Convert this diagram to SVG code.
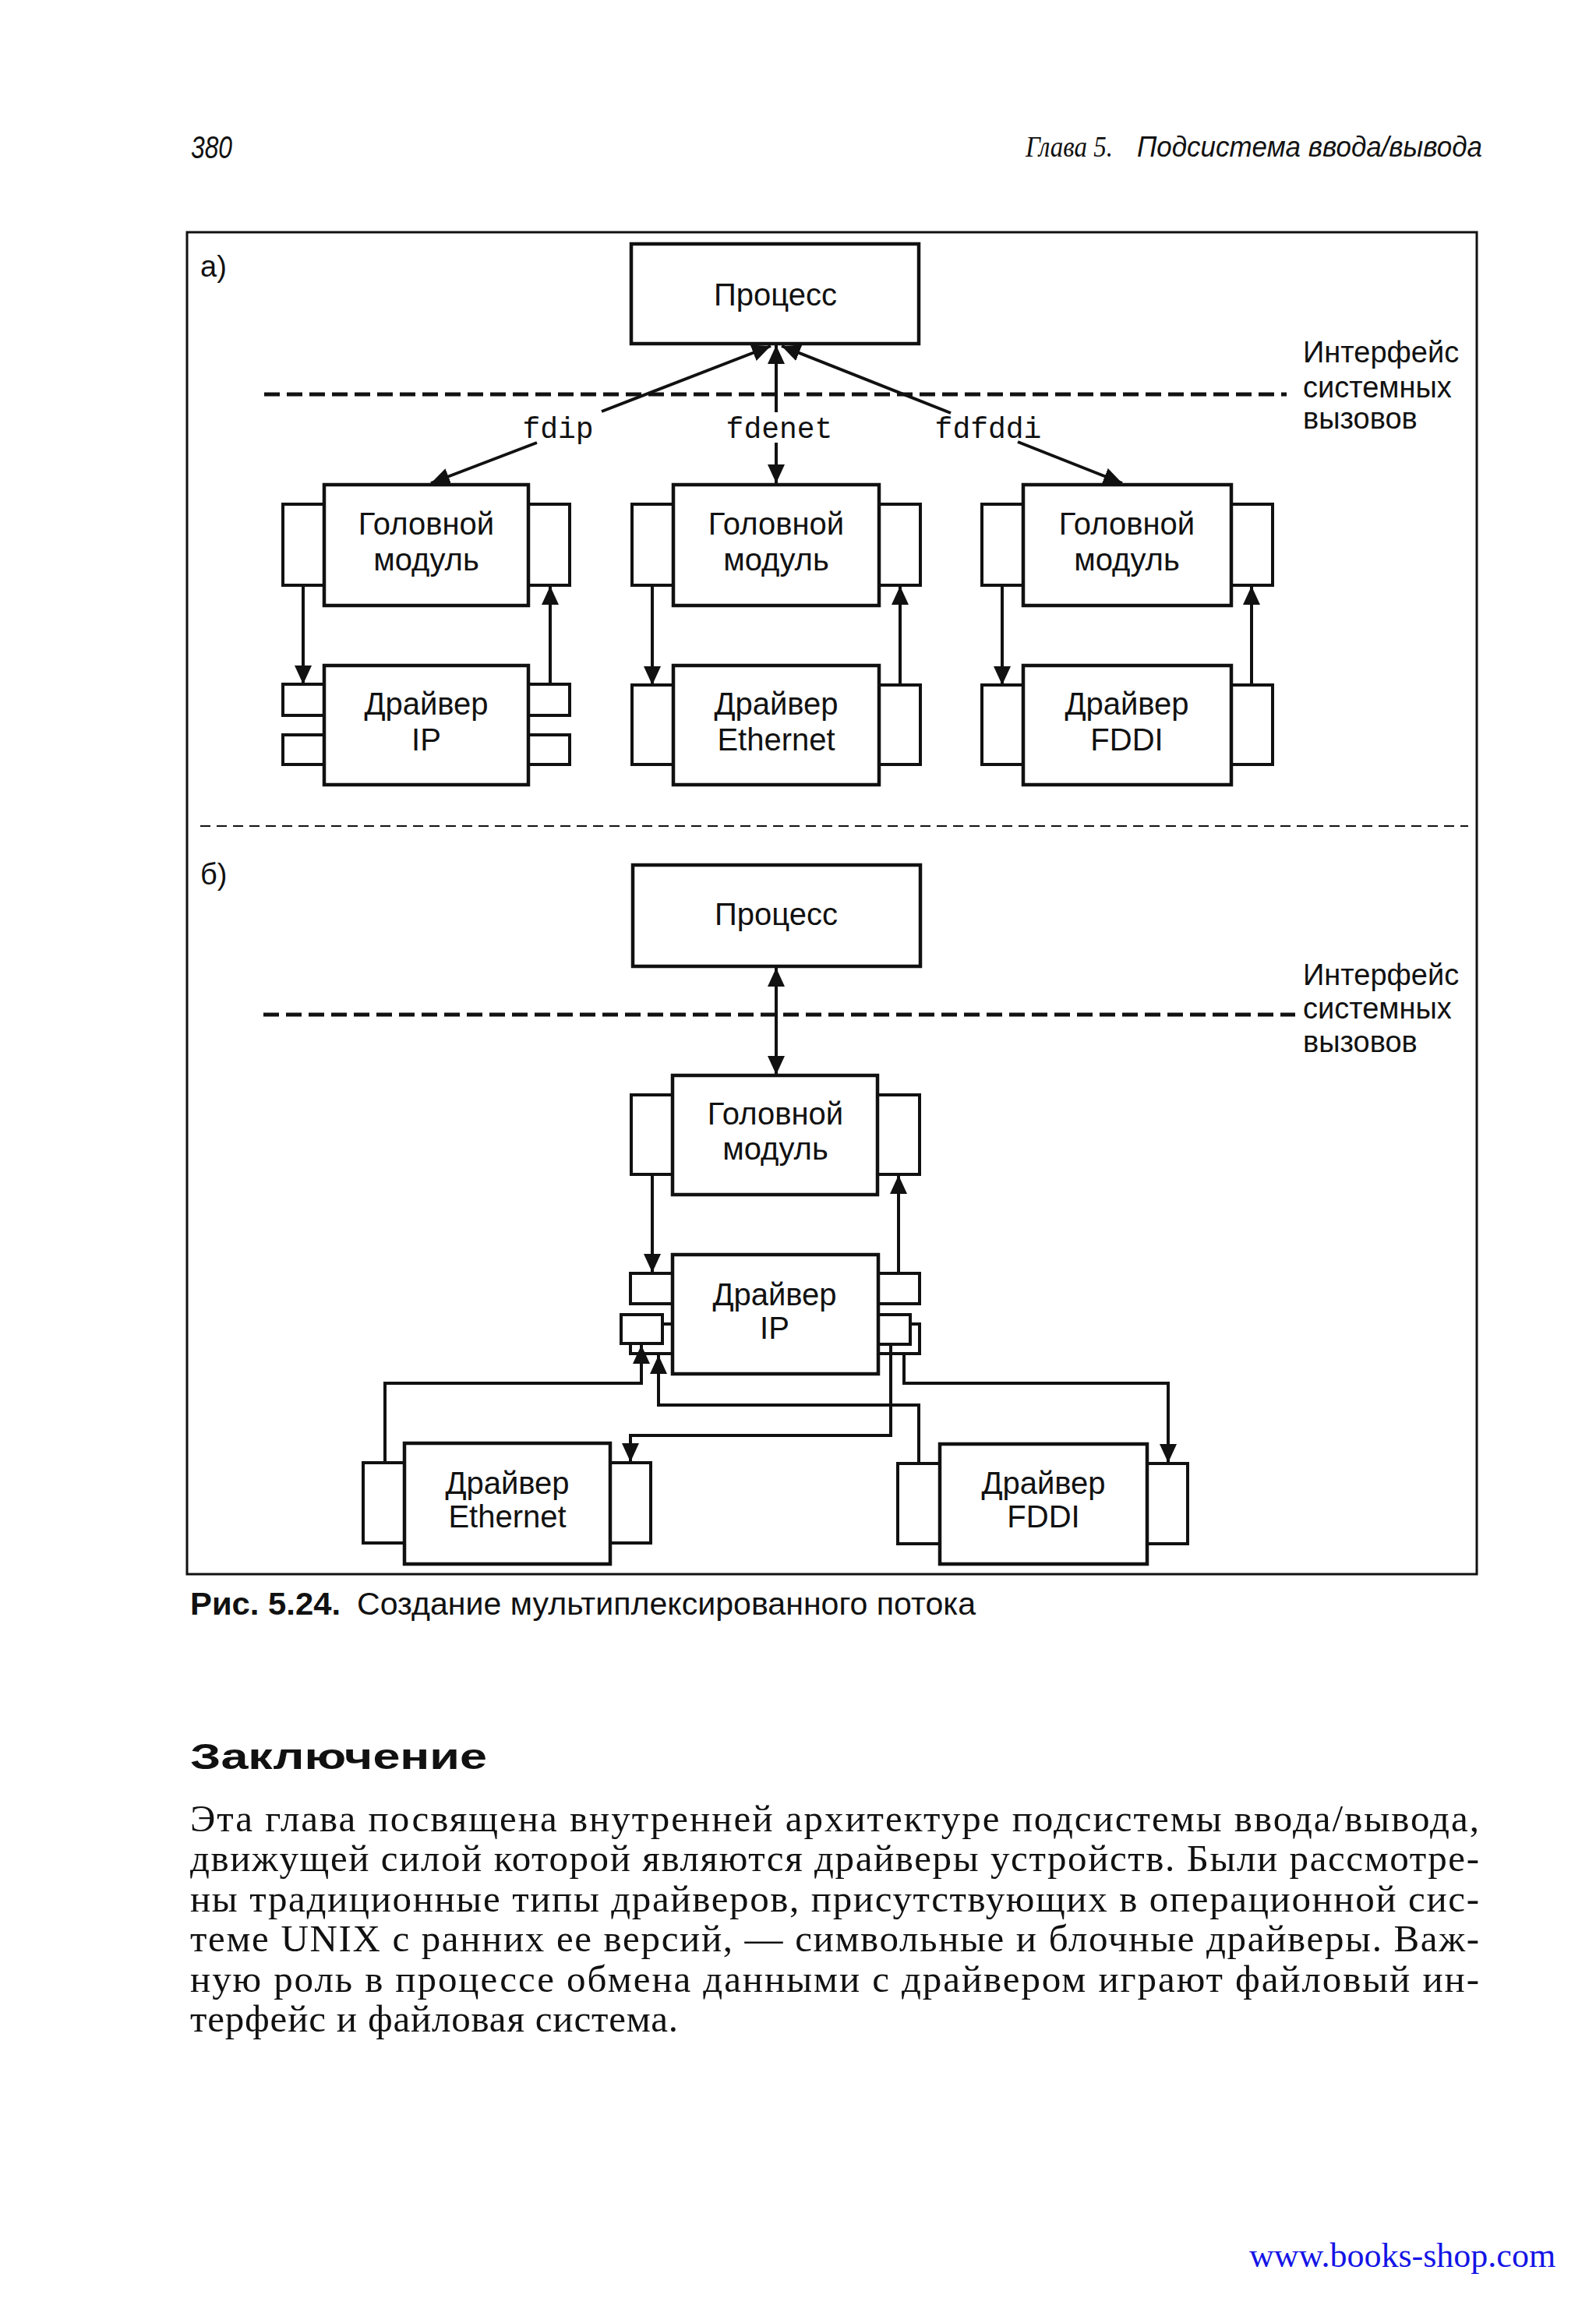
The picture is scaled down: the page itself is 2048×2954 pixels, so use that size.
<svg xmlns="http://www.w3.org/2000/svg" width="2048" height="2954" viewBox="0 0 2048 2954">
<style>
.bx{fill:#fff;stroke:#111;stroke-width:4.5}
.tb{fill:#fff;stroke:#111;stroke-width:4}
.ln{fill:none;stroke:#111;stroke-width:4}
.lbl{font-family:"Liberation Sans",Arial,sans-serif;font-size:40px;fill:#111;text-anchor:middle}
.ifc{font-family:"Liberation Sans",Arial,sans-serif;font-size:38px;fill:#111}
.mono{font-family:"Liberation Mono","Courier New",monospace;font-size:38px;fill:#111;text-anchor:middle}
.sys{fill:none;stroke:#111;stroke-width:5;stroke-dasharray:20 9}
.body{font-family:"Liberation Serif","Times New Roman",serif;font-size:49px;fill:#111}
</style>
<defs>
<marker id="ah" markerUnits="userSpaceOnUse" markerWidth="26" markerHeight="24" refX="24" refY="11" orient="auto-start-reverse">
<path d="M0,0 L24,11 L0,22 z" fill="#111"/>
</marker>
</defs>
<rect width="2048" height="2954" fill="#fff"/>

<g id="header">
<text x="245" y="203" font-family="Liberation Sans,Arial,sans-serif" font-style="italic" font-size="40" fill="#111" textLength="53" lengthAdjust="spacingAndGlyphs">380</text>
<text x="1316" y="201" font-family="Liberation Serif,Times New Roman,serif" font-style="italic" font-size="38" fill="#111" textLength="112" lengthAdjust="spacingAndGlyphs">Глава 5.</text>
<text x="1459" y="201" font-family="Liberation Sans,Arial,sans-serif" font-style="italic" font-size="36" fill="#111" textLength="443" lengthAdjust="spacingAndGlyphs">Подсистема ввода/вывода</text>
</g>

<g id="frame">
<rect x="240" y="298" width="1655" height="1722" fill="none" stroke="#111" stroke-width="3"/>
<line x1="257" y1="1060" x2="1884" y2="1060" stroke="#111" stroke-width="2" stroke-dasharray="13 8"/>
<text x="257" y="355" class="ifc" font-size="40">а)</text>
<text x="257" y="1135" class="ifc" font-size="40">б)</text>
</g>

<g id="syscall-a">
<line x1="339" y1="506" x2="1651" y2="506" class="sys"/>
<text x="1672" y="465" class="ifc">Интерфейс</text>
<text x="1672" y="510" class="ifc">системных</text>
<text x="1672" y="550" class="ifc">вызовов</text>
</g>

<g id="process-a">
<rect x="810" y="313" width="369" height="128" class="bx"/>
<text x="995" y="392" class="lbl">Процесс</text>
</g>

<g id="fd-labels">
<text x="716" y="562" class="mono">fdip</text>
<text x="1000" y="562" class="mono">fdenet</text>
<text x="1268" y="562" class="mono">fdfddi</text>
</g>

<g id="head-ip-a">
<rect x="363" y="647" width="53" height="104" class="tb"/>
<rect x="678" y="647" width="53" height="104" class="tb"/>
<rect x="416" y="622" width="262" height="155" class="bx"/>
<text x="547" y="686" class="lbl">Головной</text>
<text x="547" y="732" class="lbl">модуль</text>
</g>
<g id="drv-ip-a">
<rect x="363" y="878" width="53" height="40" class="tb"/>
<rect x="363" y="943" width="53" height="38" class="tb"/>
<rect x="678" y="878" width="53" height="40" class="tb"/>
<rect x="678" y="943" width="53" height="38" class="tb"/>
<rect x="416" y="854" width="262" height="153" class="bx"/>
<text x="547" y="917" class="lbl">Драйвер</text>
<text x="547" y="963" class="lbl">IP</text>
</g>

<g id="head-eth-a">
<rect x="811" y="647" width="53" height="104" class="tb"/>
<rect x="1128" y="647" width="53" height="104" class="tb"/>
<rect x="864" y="622" width="264" height="155" class="bx"/>
<text x="996" y="686" class="lbl">Головной</text>
<text x="996" y="732" class="lbl">модуль</text>
</g>
<g id="drv-eth-a">
<rect x="811" y="879" width="53" height="102" class="tb"/>
<rect x="1128" y="879" width="53" height="102" class="tb"/>
<rect x="864" y="854" width="264" height="153" class="bx"/>
<text x="996" y="917" class="lbl">Драйвер</text>
<text x="996" y="963" class="lbl">Ethernet</text>
</g>

<g id="head-fddi-a">
<rect x="1260" y="647" width="53" height="104" class="tb"/>
<rect x="1580" y="647" width="53" height="104" class="tb"/>
<rect x="1313" y="622" width="267" height="155" class="bx"/>
<text x="1446" y="686" class="lbl">Головной</text>
<text x="1446" y="732" class="lbl">модуль</text>
</g>
<g id="drv-fddi-a">
<rect x="1260" y="879" width="53" height="102" class="tb"/>
<rect x="1580" y="879" width="53" height="102" class="tb"/>
<rect x="1313" y="854" width="267" height="153" class="bx"/>
<text x="1446" y="917" class="lbl">Драйвер</text>
<text x="1446" y="963" class="lbl">FDDI</text>
</g>

<g id="syscall-b">
<line x1="338" y1="1302" x2="1662" y2="1302" class="sys"/>
<text x="1672" y="1264" class="ifc">Интерфейс</text>
<text x="1672" y="1307" class="ifc">системных</text>
<text x="1672" y="1350" class="ifc">вызовов</text>
</g>

<g id="process-b">
<rect x="812" y="1110" width="369" height="130" class="bx"/>
<text x="996" y="1187" class="lbl">Процесс</text>
</g>

<g id="head-b">
<rect x="810" y="1405" width="53" height="102" class="tb"/>
<rect x="1126" y="1405" width="54" height="102" class="tb"/>
<rect x="863" y="1380" width="263" height="153" class="bx"/>
<text x="995" y="1443" class="lbl">Головной</text>
<text x="995" y="1488" class="lbl">модуль</text>
</g>

<g id="drv-ip-b">
<rect x="809" y="1634" width="54" height="39" class="tb"/>
<rect x="1127" y="1634" width="53" height="39" class="tb"/>
<rect x="809" y="1699" width="54" height="38" class="tb"/>
<rect x="1127" y="1699" width="53" height="38" class="tb"/>
<rect x="797" y="1687" width="53" height="37" class="tb"/>
<rect x="1113" y="1687" width="55" height="38" class="tb"/>
<rect x="863" y="1610" width="264" height="153" class="bx"/>
<text x="994" y="1675" class="lbl">Драйвер</text>
<text x="994" y="1718" class="lbl">IP</text>
</g>

<g id="drv-eth-b">
<rect x="466" y="1877" width="53" height="103" class="tb"/>
<rect x="783" y="1877" width="52" height="103" class="tb"/>
<rect x="519" y="1852" width="264" height="155" class="bx"/>
<text x="651" y="1917" class="lbl">Драйвер</text>
<text x="651" y="1960" class="lbl">Ethernet</text>
</g>

<g id="drv-fddi-b">
<rect x="1152" y="1878" width="54" height="103" class="tb"/>
<rect x="1472" y="1878" width="52" height="103" class="tb"/>
<rect x="1206" y="1853" width="266" height="154" class="bx"/>
<text x="1339" y="1917" class="lbl">Драйвер</text>
<text x="1339" y="1960" class="lbl">FDDI</text>
</g>

<g id="connectors">
<line x1="772" y1="528" x2="989" y2="444" class="ln" marker-end="url(#ah)"/>
<line x1="996" y1="529" x2="996" y2="443" class="ln" marker-end="url(#ah)"/>
<line x1="1220" y1="530" x2="1003" y2="444" class="ln" marker-end="url(#ah)"/>
<line x1="689" y1="568" x2="553" y2="620" class="ln" marker-end="url(#ah)"/>
<line x1="996" y1="568" x2="996" y2="620" class="ln" marker-end="url(#ah)"/>
<line x1="1306" y1="567" x2="1440" y2="620" class="ln" marker-end="url(#ah)"/>

<line x1="389" y1="751" x2="389" y2="878" class="ln" marker-end="url(#ah)"/>
<line x1="706" y1="878" x2="706" y2="752" class="ln" marker-end="url(#ah)"/>
<line x1="837" y1="751" x2="837" y2="879" class="ln" marker-end="url(#ah)"/>
<line x1="1155" y1="879" x2="1155" y2="752" class="ln" marker-end="url(#ah)"/>
<line x1="1286" y1="751" x2="1286" y2="879" class="ln" marker-end="url(#ah)"/>
<line x1="1606" y1="879" x2="1606" y2="752" class="ln" marker-end="url(#ah)"/>

<line x1="996" y1="1242" x2="996" y2="1379" class="ln" marker-start="url(#ah)" marker-end="url(#ah)"/>
<line x1="837" y1="1507" x2="837" y2="1633" class="ln" marker-end="url(#ah)"/>
<line x1="1153" y1="1634" x2="1153" y2="1508" class="ln" marker-end="url(#ah)"/>

<path d="M494,1877 V1775 H823 V1726" class="ln" marker-end="url(#ah)"/>
<path d="M1179,1878 V1803 H845 V1739" class="ln" marker-end="url(#ah)"/>
<path d="M1143,1725 V1842 H809 V1876" class="ln" marker-end="url(#ah)"/>
<path d="M1160,1737 V1775 H1499 V1877" class="ln" marker-end="url(#ah)"/>
</g>

<g id="caption">
<text x="244" y="2072" font-family="Liberation Sans,Arial,sans-serif" font-weight="bold" font-size="40" fill="#111" textLength="193" lengthAdjust="spacingAndGlyphs">Рис. 5.24.</text>
<text x="458" y="2072" font-family="Liberation Sans,Arial,sans-serif" font-size="40" fill="#111" textLength="794" lengthAdjust="spacingAndGlyphs">Создание мультиплексированного потока</text>
</g>

<g id="section">
<text x="244" y="2270" font-family="Liberation Sans,Arial,sans-serif" font-weight="bold" font-size="46" fill="#111" textLength="381" lengthAdjust="spacingAndGlyphs">Заключение</text>
<text x="244" y="2350" class="body" textLength="1654" lengthAdjust="spacing">Эта глава посвящена внутренней архитектуре подсистемы ввода/вывода,</text>
<text x="244" y="2401" class="body" textLength="1654" lengthAdjust="spacing">движущей силой которой являются драйверы устройств. Были рассмотре-</text>
<text x="244" y="2453" class="body" textLength="1654" lengthAdjust="spacing">ны традиционные типы драйверов, присутствующих в операционной сис-</text>
<text x="244" y="2504" class="body" textLength="1654" lengthAdjust="spacing">теме UNIX с ранних ее версий, — символьные и блочные драйверы. Важ-</text>
<text x="244" y="2556" class="body" textLength="1654" lengthAdjust="spacing">ную роль в процессе обмена данными с драйвером играют файловый ин-</text>
<text x="244" y="2607" class="body" textLength="626" lengthAdjust="spacing">терфейс и файловая система.</text>
</g>

<g id="footer">
<text x="1603" y="2909" font-family="Liberation Serif,Times New Roman,serif" font-size="44" fill="#1414e6">www.books-shop.com</text>
</g>
</svg>
